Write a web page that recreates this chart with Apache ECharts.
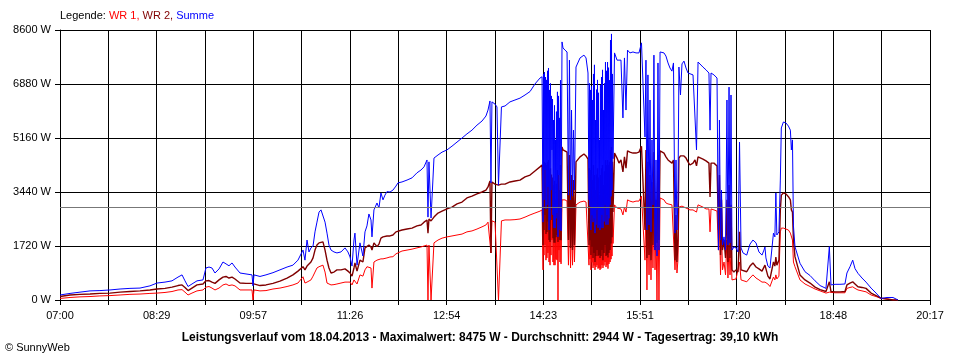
<!DOCTYPE html>
<html><head><meta charset="utf-8">
<script src="https://cdn.jsdelivr.net/npm/echarts@6.0.0/dist/echarts.min.js"></script>
<style>html,body{margin:0;padding:0;background:#fff}#c{width:960px;height:360px}</style>
</head><body><div id="c"></div>
<script>
// minutes after 07:00
const minutesAfter7 = [
 0,9.2,18.3,27.5,36.6,45.8,55.0,64.1,73.3,82.4,88.9,96.2,102.6,108.1,111.8,114.5,117.3,120.9,125.5,131.0,133.7,136.5,139.2,142.0,145.7,149.3,152.1,154.8,157.6,160.3,164.9,170.4,175.9,176.8,177.7,183.2,
 188.7,195.1,201.5,208.0,213.4,218.0,222.6,224.4,226.3,228.1,229.9,231.8,233.6,235.4,237.3,239.1,240.9,242.8,244.6,246.4,248.3,251.0,253.7,257.4,261.1,263.8,265.7,267.5,269.3,270.2,272.1,274.8,277.5,279.4,281.2,283.0,284.9,285.8,287.6,290.4,292.2,294.0,295.9,297.7,299.5,302.3,305.0,307.8,309.6,313.3,317.9,322.5,327.0,330.7,333.5,336.2,337.1,338.0,339.9,340.8,342.6,
 346.3,350.0,354.5,359.1,363.7,368.3,372.8,377.4,382.0,386.6,390.2,392.1,393.9,394.8,395.7,398.5,400.3,401.7,403.1,404.4,407.7,412.2,416.8,421.4,426.0,430.6,435.1,439.7,441.6,
 442.5,442.9,443.4,443.8,444.3,444.8,445.2,445.7,446.1,446.6,447.0,447.5,448.0,448.4,448.9,449.3,449.8,450.2,450.7,451.2,451.6,452.1,452.5,453.0,453.5,453.9,454.4,454.8,455.3,455.7,456.2,456.7,457.1,457.6,458.0,458.5,459.0,
 459.9,460.8,462.6,464.5,465.8,466.7,467.7,468.6,469.5,470.4,471.3,472.7,474.5,476.4,478.2,480.0,481.9,483.7,
 484.6,485.1,485.5,486.0,486.4,486.9,487.4,487.8,488.3,488.7,489.2,489.6,490.1,490.6,491.0,491.5,491.9,492.4,492.9,493.3,493.8,494.2,494.7,495.1,495.6,496.1,496.5,497.0,497.4,497.9,498.4,498.8,499.3,499.7,500.2,500.6,501.1,501.6,502.0,502.5,502.9,503.4,503.9,504.3,504.8,505.2,505.7,506.1,506.6,
 508.0,510.3,512.1,513.9,515.7,517.1,518.5,519.9,522.1,524.9,527.7,530.4,532.7,534.1,
 535.9,536.8,537.7,538.6,539.6,540.5,541.4,542.3,543.2,544.1,545.1,546.0,546.9,547.8,548.7,549.7,551.5,553.3,555.1,557.0,558.8,560.6,562.0,563.4,564.3,565.2,566.1,567.0,568.4,569.8,571.6,573.5,575.3,577.1,579.9,581.7,583.1,584.5,586.3,589.0,591.8,594.5,595.5,596.4,599.1,601.9,603.2,604.1,605.1,606.0,606.9,608.3,609.7,611.0,611.9,612.9,613.8,614.7,615.6,617.4,619.3,621.1,622.5,623.9,625.7,629.1,
 632.1,634.8,637.6,640.3,643.1,644.9,645.8,646.7,648.5,650.4,652.2,653.6,654.9,655.8,656.7,658.6,659.9,660.8,662.7,665.0,667.3,669.1,670.0,671.0,671.9,673.3,677.9,682.5,687.1,691.7,696.3,701.7,704.8,706.3,710.0,714.5,719.1,720.9,723.7,726.2,728.3,731.0,734.7,738.4,743.0,747.6,752.1,757.6,763.1,767.7
];
// WR 1 (W)
const wr1 = [
 50,80,100,110,130,140,160,180,190,210,220,240,270,320,330,250,160,220,290,320,410,430,380,320,380,480,510,460,480,450,320,320,320,0,320,290,
 300,350,380,430,480,540,740,540,570,510,640,760,890,1020,1060,1080,1110,890,540,480,480,490,510,540,570,570,570,480,640,700,510,800,760,960,1060,1110,1020,380,1210,1270,1210,1310,1310,1340,1340,1370,1380,1470,1530,1560,1590,1620,1660,1690,1720,1750,0,1750,0,0,1820,
 1910,1970,2010,2040,2070,2100,2170,2200,2260,2330,2390,2480,2520,1500,2520,2480,2480,0,0,2520,2550,2550,2560,2580,2640,2710,2770,2830,2870,
 960,3060,1430,3090,1750,3000,1270,3030,1340,3060,1500,3030,1210,2960,1110,2930,1430,2870,1910,2800,1210,2550,1110,2700,1110,2070,1300,2600,1270,2870,0,2700,1590,2500,1210,2900,1150,
 3190,3190,3190,3150,1110,3030,1020,2710,1110,2550,1210,3030,3060,3120,3150,3150,3120,3090,
 1110,2900,1300,2870,960,2800,1200,2710,1020,2900,1100,2870,960,2550,1050,2800,1110,2800,1000,2700,1020,2390,960,2710,1000,2900,1110,2870,1020,2610,1100,2800,1210,2960,1050,2900,1110,2960,1000,2900,1150,2900,1210,3030,1300,3090,1400,2900,1800,
 3030,2930,2870,2900,2710,2960,2800,3190,3150,3120,3150,3150,3310,3280,
 1270,3190,320,2870,800,2710,640,2550,1020,3030,960,2230,0,3190,0,3250,3250,3190,3090,3060,3030,3030,3060,960,1910,860,1270,2960,2960,2990,2960,2930,2900,2870,2870,2870,2800,3030,2990,2960,2900,2900,2170,2900,2870,2830,1590,2710,800,2230,960,1210,800,1910,700,1750,800,1590,640,700,670,640,1210,640,580,580,
 700,800,700,640,570,610,570,610,510,430,410,730,640,800,670,760,2170,2290,2290,2260,2230,2130,2070,1910,1210,1060,640,510,430,350,290,220,250,220,230,230,230,370,400,420,370,320,290,260,160,110,50,30,0,0
];
// WR 2 (W)
const wr2 = [
 110,160,180,190,210,220,250,270,290,320,350,370,410,460,480,400,300,380,480,510,610,620,570,530,640,730,750,700,730,670,540,530,530,510,510,460,
 480,530,600,700,800,920,1060,960,1080,1020,1210,1340,1590,1750,1820,1850,1850,1590,1270,1020,860,890,960,960,990,920,860,760,1020,1180,920,1270,1210,1660,1720,1750,1690,1590,1820,1700,1780,1970,2010,1970,2040,2040,2070,2170,2200,2230,2260,2290,2360,2390,2480,2550,2130,2580,2520,2480,2640,
 2770,2830,2900,2960,3060,3120,3250,3310,3380,3440,3500,3600,3790,1500,3760,3690,3660,3660,3690,3690,3690,3760,3790,3820,3920,3980,4110,4240,4300,
 1750,4330,2230,4400,2710,4360,2100,4300,2170,4400,2500,4460,1910,4140,1850,4200,2550,4000,2870,3900,1970,3660,1820,3800,1820,3190,2000,3700,2070,4140,1850,3980,2390,3500,1910,4300,1900,
 4870,4780,4750,4710,1910,4620,1660,3980,1590,3820,1750,4400,4430,4560,4620,4650,4590,4490,
 1750,4200,1900,4140,1430,4000,1700,3820,1340,4300,1500,3980,1210,3500,1400,4000,1590,4200,1400,3900,1430,3340,1340,3980,1400,4200,1590,4300,1270,3660,1500,4100,1750,4460,1400,4300,1430,4460,1350,4300,1500,4400,1590,4780,1800,4870,2000,4400,2800,
 4680,4520,4360,4460,4080,4560,4200,4750,4710,4680,4680,4710,4900,4870,
 2230,4780,1340,4400,1430,3980,1270,3760,1750,4710,1590,3190,1820,4620,1910,4750,4780,4680,4560,4460,4400,4360,4460,1270,2710,1210,1910,4520,4590,4620,4590,4520,4400,4300,4360,4460,4270,4560,4560,4490,4430,4360,3280,4360,4360,4270,2230,3980,1430,3190,1590,1910,1340,3190,1210,3660,1340,3030,960,890,960,890,2170,960,960,900,
 1080,1180,1050,990,920,960,1110,1080,760,670,640,1210,1080,1370,1110,1270,2870,3340,3410,3380,3290,3190,2870,2800,1910,1380,800,640,540,410,330,270,580,270,260,260,270,480,540,580,510,420,400,370,220,140,60,30,0,0
];
// Summe (W)
const summe = [
 160,210,250,290,300,320,350,370,380,450,540,570,610,730,800,610,430,510,610,640,1020,1050,1020,860,990,1210,1150,1090,1180,1050,860,830,800,450,800,750,
 800,870,960,1050,1110,1270,1590,1270,1910,1530,1660,1720,2170,2480,2800,2870,2930,2480,2130,1750,1590,1530,1500,1530,1660,1530,1370,1080,1910,2130,1110,1820,1400,2170,2360,2740,2550,2010,2870,3090,2930,3410,3190,3340,3450,3440,3500,3630,3730,3760,3820,3890,4050,4140,4240,4460,2640,4400,2610,2550,4520,
 4620,4710,4780,4900,5030,5160,5290,5410,5570,5700,5860,6050,6340,3730,6310,6240,6150,3660,3690,6150,6180,6310,6370,6430,6530,6640,6880,7070,7110,
 2480,7200,3190,7260,4140,7100,2900,7010,3030,7300,3600,7390,2230,6690,2550,6900,3500,6500,4780,6400,2710,5730,2300,6200,2290,5100,2600,6000,2770,6630,2010,6500,3980,5800,2230,7000,2200,
 8220,8030,7960,7900,3340,7640,3190,6050,3310,5410,3500,7420,7450,7710,7770,7800,7710,7230,
 3190,6900,3000,6690,2230,6800,2700,6370,2480,7200,2600,7490,2130,5730,2400,6700,2870,7010,2300,6600,2390,5100,2230,6850,2300,7100,2710,7330,2290,6050,2500,6900,3030,7580,2400,7300,2710,7580,2400,7400,2600,7000,3030,8280,3300,8475,3500,7200,4500,
 7870,7640,7580,7640,5800,7710,6050,7960,7870,7900,7870,7870,8190,8150,
 5190,7640,2230,7170,2390,6370,2170,5100,3030,7800,1590,4460,1400,7550,1590,7900,7960,7870,7770,7550,7390,7290,7550,2130,4460,2230,3190,7420,6530,7520,7610,7390,7230,7200,7170,7170,4780,7580,7550,7420,7330,7230,5410,7230,7170,7070,1590,5730,1910,3500,1750,2010,1590,6370,1750,6780,1820,6530,1590,1690,1660,1530,5030,1660,1500,1430,
 1780,1910,1820,1530,1430,1590,1690,1340,1080,1020,1020,2130,2010,3410,2070,2170,3820,5480,5670,5640,5540,5410,4780,5100,2360,1700,1170,900,780,610,460,370,1700,480,500,500,510,860,1060,1270,1000,850,700,570,380,220,50,80,80,0
];
const dayStartMinutes = 7 * 60;   // 07:00
const dayEndOffset = 797;          // 20:17
const xTickCount = 18;
const yMax = 8600;
const yStep = 1720;
const average = 2944;
const titleText = 'Leistungsverlauf vom 18.04.2013 - Maximalwert: 8475 W - Durchschnitt: 2944 W - Tagesertrag: 39,10 kWh';

const FONT = "'Liberation Sans', Arial, sans-serif";
const xStep = dayEndOffset / xTickCount;
function pair(arr){ return minutesAfter7.map((m,i)=>[m, arr[i]]); }
function fmtTime(v){
  const idx = Math.round(v / xStep);
  if (idx % 2 !== 0) return '';
  const t = Math.round(dayStartMinutes + v);
  const h = Math.floor(t/60), m = t%60;
  return (h<10?'0':'')+h+':'+(m<10?'0':'')+m;
}
const chart = echarts.init(document.getElementById('c'), null, {renderer:'canvas'});
chart.setOption({
  animation:false,
  backgroundColor:'#ffffff',
  textStyle:{fontFamily:FONT},
  title:[
    {text:'{k|Legende:} {r|WR 1,} {d|WR 2,} {b|Summe}', left:60, top:10, padding:0,
     textStyle:{fontFamily:FONT,fontSize:11,fontWeight:'normal',
       rich:{k:{color:'#000',fontSize:11,fontFamily:FONT},r:{color:'#ff0000',fontSize:11,fontFamily:FONT},d:{color:'#800000',fontSize:11,fontFamily:FONT},b:{color:'#0000ff',fontSize:11,fontFamily:FONT}}}},
    {text:titleText, left:'center', top:332, padding:0, textStyle:{fontFamily:FONT,fontSize:12,fontWeight:'bold',color:'#000'}},
    {text:'© SunnyWeb', left:5, top:342, padding:0, textStyle:{fontFamily:FONT,fontSize:11,fontWeight:'normal',color:'#000'}}
  ],
  grid:{left:60,right:30,top:30,bottom:60,containLabel:false,outerBoundsMode:'none'},
  xAxis:{type:'value',min:0,max:dayEndOffset,interval:xStep,
    axisLine:{show:true,lineStyle:{color:'#000',width:1}},
    axisTick:{show:true,length:5,lineStyle:{color:'#000'}},
    axisLabel:{formatter:fmtTime,color:'#000',fontSize:11,fontFamily:FONT,margin:10,showMinLabel:true,showMaxLabel:true},
    splitLine:{show:true,lineStyle:{color:'#000',width:1}}},
  yAxis:{type:'value',min:0,max:yMax,interval:yStep,
    axisLine:{show:true,lineStyle:{color:'#000',width:1}},
    axisTick:{show:true,length:5,lineStyle:{color:'#000'}},
    axisLabel:{formatter:function(v){return v + ' W';},color:'#000',fontSize:11,fontFamily:FONT,margin:9},
    splitLine:{show:true,lineStyle:{color:'#000',width:1}}},
  series:[
    {name:'WR 1',type:'line',data:pair(wr1),showSymbol:false,symbol:'none',lineStyle:{color:'#ff0000',width:1},z:2},
    {name:'WR 2',type:'line',data:pair(wr2),showSymbol:false,symbol:'none',lineStyle:{color:'#800000',width:1.4},z:3},
    {name:'Summe',type:'line',data:pair(summe),showSymbol:false,symbol:'none',lineStyle:{color:'#0000ff',width:1},z:4},
    {name:'Durchschnitt',type:'line',data:[],z:6,
     markLine:{silent:true,symbol:'none',label:{show:false},lineStyle:{color:'#777777',width:1.2,type:'solid'},data:[{yAxis:average}]}}
  ]
});
</script></body></html>
